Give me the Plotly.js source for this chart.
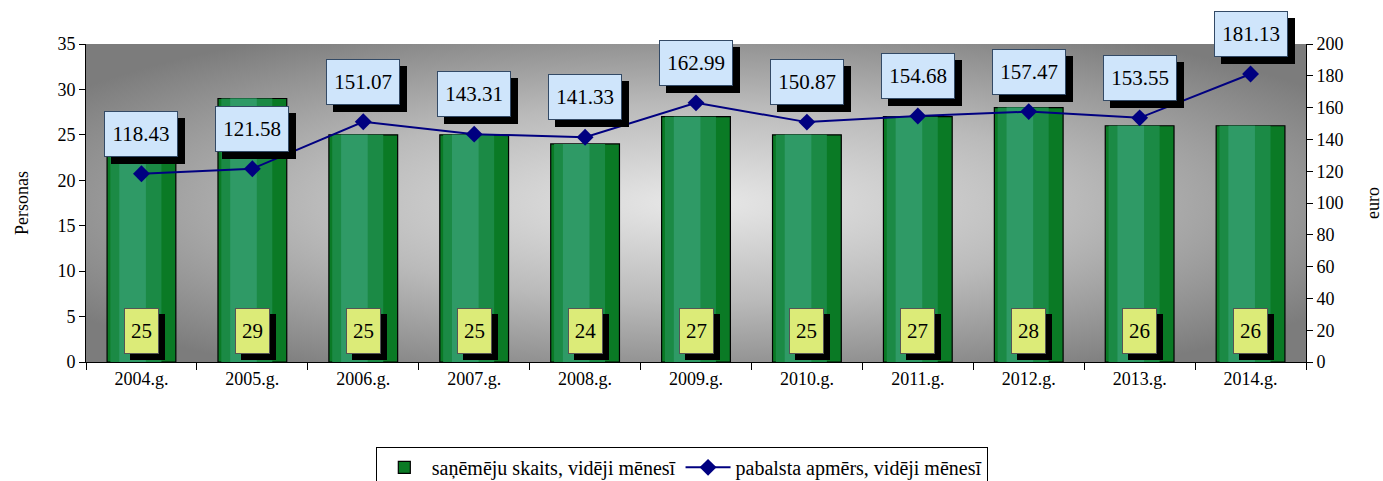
<!DOCTYPE html>
<html>
<head>
<meta charset="utf-8">
<script src="https://cdn.plot.ly/plotly-3.0.1.min.js"></script>
<style>html,body{margin:0;padding:0;background:#fff;}#chart{width:1383px;height:481px;}</style>
</head>
<body>
<div id="chart"></div>
<script>
var years = ["2004.g.","2005.g.","2006.g.","2007.g.","2008.g.","2009.g.","2010.g.","2011.g.","2012.g.","2013.g.","2014.g."];
var recipients = [25, 29, 25, 25, 24, 27, 25, 27, 28, 26, 26];
var allowance = [118.43, 121.58, 151.07, 143.31, 141.33, 162.99, 150.87, 154.68, 157.47, 153.55, 181.13];
var barName = "saņēmēju skaits, vidēji mēnesī";
var lineName = "pabalsta apmērs, vidēji mēnesī";
var leftTitle = "Personas";
var rightTitle = "euro";

var FONT = "Liberation Serif";

var traces = [
  {type:"bar", x:years, y:recipients, name:barName, width:0.62,
   marker:{color:"#0a7a25", line:{color:"#000", width:1.2}}, hoverinfo:"skip"},
  {type:"bar", x:years, y:recipients, showlegend:false, width:0.46,
   marker:{color:"#1b8a45", line:{width:0}}, hoverinfo:"skip", offset:-0.28},
  {type:"bar", x:years, y:recipients, showlegend:false, width:0.24,
   marker:{color:"#2f9a66", line:{width:0}}, hoverinfo:"skip", offset:-0.2},
  {type:"scatter", mode:"lines+markers", x:years, y:allowance, yaxis:"y2", name:lineName,
   line:{color:"#000080", width:2}, marker:{symbol:"diamond", size:13, color:"#000080"}}
];

var ann = [];
for (var i = 0; i < years.length; i++) {
  var t = allowance[i].toFixed(2);
  ann.push({x:years[i], y:allowance[i], xref:"x", yref:"y2", text:"\u00a0", showarrow:false,
    xshift:7, yshift:33, width:70, height:42, bgcolor:"#000", borderpad:1, borderwidth:1, bordercolor:"#000",
    font:{family:FONT, size:20, color:"#000"}});
  ann.push({x:years[i], y:allowance[i], xref:"x", yref:"y2", text:t, showarrow:false,
    xshift:0, yshift:40, width:70, height:42, bgcolor:"#cfe5fb", borderpad:1, borderwidth:1, bordercolor:"#334a66",
    font:{family:FONT, size:21, color:"#000"}});
  var r = String(recipients[i]);
  ann.push({x:years[i], y:0, xref:"x", yref:"y", yanchor:"bottom", text:"\u00a0", showarrow:false,
    xshift:6, yshift:2, width:31, height:42, bgcolor:"#000", borderpad:1, borderwidth:1, bordercolor:"#000",
    font:{family:FONT, size:20, color:"#000"}});
  ann.push({x:years[i], y:0, xref:"x", yref:"y", yanchor:"bottom", text:r, showarrow:false,
    xshift:0, yshift:8, width:31, height:42, bgcolor:"#dceb78", borderpad:1, borderwidth:1, bordercolor:"#555",
    font:{family:FONT, size:21, color:"#000"}});
}

var svg = '<svg xmlns="http://www.w3.org/2000/svg" width="1220" height="318" viewBox="0 0 1220 318" preserveAspectRatio="none">' +
  '<defs><radialGradient id="g" cx="50%" cy="50%" r="62%"><stop offset="0" stop-color="#e8e8e8"/><stop offset="0.5" stop-color="#bababa"/><stop offset="1" stop-color="#7c7c7c"/></radialGradient></defs>' +
  '<rect width="1220" height="318" fill="url(#g)"/></svg>';

var layout = {
  width:1383, height:481,
  margin:{l:86, r:77, t:44, b:119, pad:0},
  paper_bgcolor:"#fff", plot_bgcolor:"#8a8a8a",
  barmode:"overlay",
  font:{family:FONT, size:17, color:"#000"},
  showlegend:true,
  legend:{orientation:"h", x:0.493, xanchor:"center", xref:"container", y:0.071, yanchor:"top", yref:"container",
    bgcolor:"#fff", bordercolor:"#000", borderwidth:1, font:{family:FONT, size:20}, traceorder:"normal",
    itemwidth:45},
  xaxis:{type:"category", range:[-0.5,10.5], showline:true, linecolor:"#000", linewidth:1, ticks:"outside", ticklen:7,
    tickson:"boundaries", tickcolor:"#000", showgrid:false, tickfont:{family:FONT, size:18}, fixedrange:true},
  yaxis:{range:[0,35], dtick:5, showline:true, linecolor:"#000", linewidth:1, ticks:"outside", ticklen:6,
    tickcolor:"#000", showgrid:false, zeroline:false, tickfont:{family:FONT, size:18},
    title:{text:leftTitle, font:{family:FONT, size:18}, standoff:24}},
  yaxis2:{range:[0,200], dtick:20, overlaying:"y", side:"right", showline:true, linecolor:"#000", linewidth:1,
    ticks:"outside", ticklen:6, tickcolor:"#000", showgrid:false, zeroline:false, tickfont:{family:FONT, size:18},
    title:{text:rightTitle, font:{family:FONT, size:18}, standoff:24}},
  annotations:ann,
  images:[{source:"data:image/svg+xml;charset=utf-8," + encodeURIComponent(svg), xref:"paper", yref:"paper",
    x:0, y:1, sizex:1, sizey:1, xanchor:"left", yanchor:"top", sizing:"stretch", layer:"below"}]
};

Plotly.newPlot("chart", traces, layout, {displayModeBar:false, staticPlot:true});
</script>
</body>
</html>
